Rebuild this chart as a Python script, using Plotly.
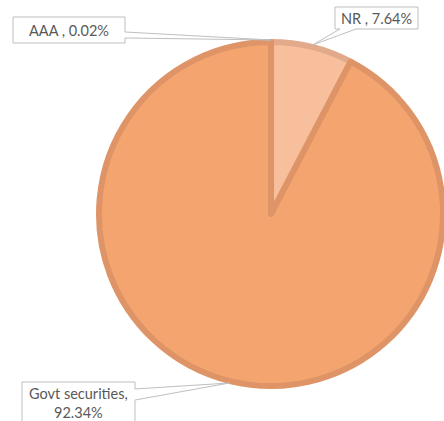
import math
import plotly.graph_objects as go

labels = ["AAA", "NR", "Govt securities"]
values = [0.02, 7.64, 92.34]
label_texts = ["AAA , 0.02%", "NR , 7.64%", "Govt securities,<br>92.34%"]

fill_colors = ["#F4A56F", "#F8BF9C", "#F4A56F"]
line_colors = ["#DE9467", "#E2AA8A", "#DE9467"]

W, H = 444, 421
cx, cy, R = 271, 214, 172

fig = go.Figure()
fig.add_trace(go.Pie(
    labels=labels, values=values, sort=False, direction="clockwise", rotation=0,
    marker=dict(colors=fill_colors, line=dict(color=line_colors, width=6)),
    textinfo="none", hoverinfo="label+percent", showlegend=False,
    domain=dict(x=[(cx - R) / W, min(1.0, (cx + R) / W)],
                y=[1 - (cy + R) / H, 1 - (cy - R) / H]),
))

def px(x):
    return x / W

def py(y):
    return 1 - y / H

boxes = [
    dict(box=(13, 17, 125, 43), side="right", base=(32, 38)),
    dict(box=(335, 7, 418, 29), side="bottom", base=(340, 356)),
    dict(box=(22, 382, 135, 440), side="right", base=(389, 400)),
]

total = sum(values)
cum = 0.0
for i, v in enumerate(values):
    mid = (cum + v / 2) / total * 2 * math.pi
    cum += v
    ax = cx + (R + 2) * math.sin(mid)
    ay = cy - (R + 2) * math.cos(mid)
    b = boxes[i]
    x0, y0, x1, y1 = b["box"]
    if b["side"] == "right":
        ya, yb = b["base"]
        pts = [(x0, y0), (x1, y0), (x1, ya), (ax, ay), (x1, yb), (x1, y1), (x0, y1)]
    else:
        xa, xb = b["base"]
        pts = [(x0, y0), (x1, y0), (x1, y1), (xb, y1), (ax, ay), (xa, y1), (x0, y1)]
    path = "M " + " L ".join(f"{px(x):.5f},{py(y):.5f}" for x, y in pts) + " Z"
    fig.add_shape(type="path", path=path, xref="paper", yref="paper",
                  fillcolor="white", line=dict(color="#BFBFBF", width=1), layer="above")
    tx = (x0 + x1) / 2
    if i == 2:
        fig.add_annotation(x=px(tx), y=py(383), xref="paper", yref="paper",
                           text=label_texts[i], showarrow=False, xanchor="center", yanchor="top",
                           font=dict(family="Lato", size=14.5, color="#595959"))
    else:
        fig.add_annotation(x=px(tx), y=py((y0 + y1) / 2), xref="paper", yref="paper",
                           text=label_texts[i], showarrow=False, xanchor="center", yanchor="middle",
                           font=dict(family="Lato", size=14.5, color="#595959"))

fig.update_layout(width=W, height=H, margin=dict(l=0, r=0, t=0, b=0),
                  paper_bgcolor="white", plot_bgcolor="white")
fig.write_html("out.html")
